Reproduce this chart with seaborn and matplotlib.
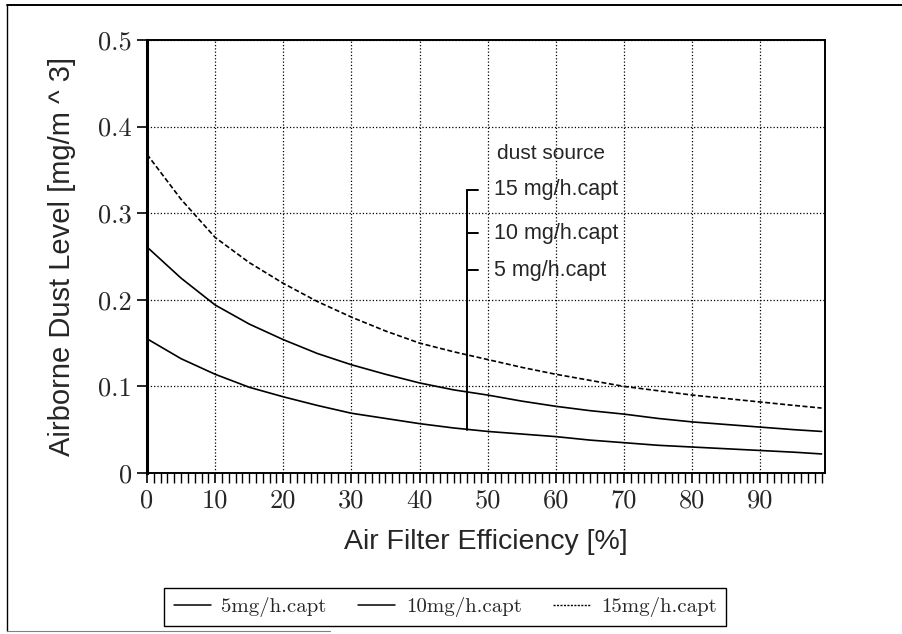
import numpy as np
import pandas as pd
import seaborn as sns
import matplotlib.pyplot as plt
from matplotlib.lines import Line2D
from matplotlib.ticker import MultipleLocator

# values (filter efficiency in %, dust level in mg/m^3)
efficiency = [0, 5, 10, 15, 20, 25, 30, 35, 40, 45, 50, 55, 60, 65, 70, 75, 80, 85, 90, 95, 99]
dust_5 = [0.155, 0.132, 0.114, 0.099, 0.088, 0.078, 0.069, 0.063, 0.057, 0.052, 0.048,
          0.045, 0.042, 0.038, 0.035, 0.032, 0.030, 0.028, 0.026, 0.024, 0.022]
dust_10 = [0.261, 0.225, 0.194, 0.172, 0.154, 0.138, 0.125, 0.114, 0.104, 0.096, 0.090,
           0.083, 0.077, 0.072, 0.068, 0.063, 0.059, 0.056, 0.053, 0.050, 0.048]
dust_15 = [0.368, 0.316, 0.272, 0.243, 0.219, 0.198, 0.180, 0.164, 0.150, 0.140, 0.131,
           0.122, 0.114, 0.107, 0.100, 0.095, 0.090, 0.086, 0.082, 0.078, 0.075]

labels = ['5mg/h.capt', '10mg/h.capt', '15mg/h.capt']
source_labels = ['15 mg/h.capt', '10 mg/h.capt', '5 mg/h.capt']
bracket_x = 47
bracket_y = [0.327, 0.277, 0.234]
bracket_bottom = 0.05

df = pd.DataFrame({'eff': efficiency, labels[0]: dust_5, labels[1]: dust_10, labels[2]: dust_15})
long_df = df.melt(id_vars='eff', var_name='source', value_name='dust')

sns.set_style('white')
fig = plt.figure(figsize=(9.03, 6.34), dpi=100)
ax = fig.add_axes([147 / 903, 1 - 473 / 634, (825 - 147) / 903, (473 - 40) / 634])

sns.lineplot(data=long_df, x='eff', y='dust', hue='source', style='source',
             palette=['black', 'black', 'black'],
             dashes={labels[0]: '', labels[1]: '', labels[2]: (3, 1.5)},
             linewidth=1.2, legend=False, ax=ax)

# bracket for the dust source annotation
ax.plot([bracket_x, bracket_x], [bracket_bottom, bracket_y[0]], color='black', lw=1.4)
for yy in bracket_y:
    ax.plot([bracket_x, bracket_x + 1.6], [yy, yy], color='black', lw=1.4)
ax.text(bracket_x + 4.4, 0.369, 'dust source', fontsize=15, family='Liberation Sans', va='center')
for yy, lab in zip(bracket_y, source_labels):
    ax.text(bracket_x + 3.9, yy, lab, fontsize=15.5, family='Liberation Sans', va='center')

ax.set_xlim(0, 99.5)
ax.set_ylim(0, 0.5)
ax.set_xticks(range(0, 100, 10))
ax.set_yticks([0, 0.1, 0.2, 0.3, 0.4, 0.5])
ax.set_yticklabels(['0', '0.1', '0.2', '0.3', '0.4', '0.5'])
ax.xaxis.set_minor_locator(MultipleLocator(1))
ax.tick_params(axis='both', which='major', direction='out', length=7, width=1.2, color='black',
               labelsize=19, pad=4)
ax.tick_params(axis='x', which='minor', direction='out', length=7, width=1.0, color='black', bottom=True)
ax.tick_params(axis='x', which='major', bottom=True)
ax.tick_params(axis='y', which='major', left=True)
for lab in ax.get_xticklabels() + ax.get_yticklabels():
    lab.set_family('cmr10')

ax.grid(True, which='major', color='black', linestyle=':', linewidth=0.9)
for sp in ax.spines.values():
    sp.set_color('black')
    sp.set_linewidth(1.4)
ax.spines['left'].set_linewidth(2.2)

ax.set_xlabel('Air Filter Efficiency [%]', fontsize=20.5, family='Liberation Sans', labelpad=12)
ax.set_ylabel('Airborne Dust Level [mg/m ^ 3]', fontsize=21, family='Liberation Sans', labelpad=16)

handles = [Line2D([], [], color='black', lw=1.1),
           Line2D([], [], color='black', lw=1.1),
           Line2D([], [], color='black', lw=1.0, linestyle=(0, (1.5, 1)))]
leg = fig.legend(handles, labels, loc='center', ncol=3, bbox_to_anchor=(445 / 903, 1 - 607 / 634),
                 frameon=True, fancybox=False, edgecolor='black', framealpha=1,
                 prop={'family': 'cmr10', 'size': 15}, handlelength=1.8, columnspacing=1.5,
                 borderpad=0.45, handletextpad=0.5)
leg.get_frame().set_linewidth(1.0)

# outer frame of the scanned figure
fig.add_artist(Line2D([7 / 903, 7 / 903], [1 - 5 / 634, 1 - 631 / 634], color='black', lw=1.0))
fig.add_artist(Line2D([7 / 903, 1.0], [1 - 5 / 634, 1 - 5 / 634], color='black', lw=1.4))
fig.add_artist(Line2D([7 / 903, 330 / 903], [1 - 631 / 634, 1 - 631 / 634], color='gray', lw=0.8))

fig.savefig('out.png', dpi=100)
